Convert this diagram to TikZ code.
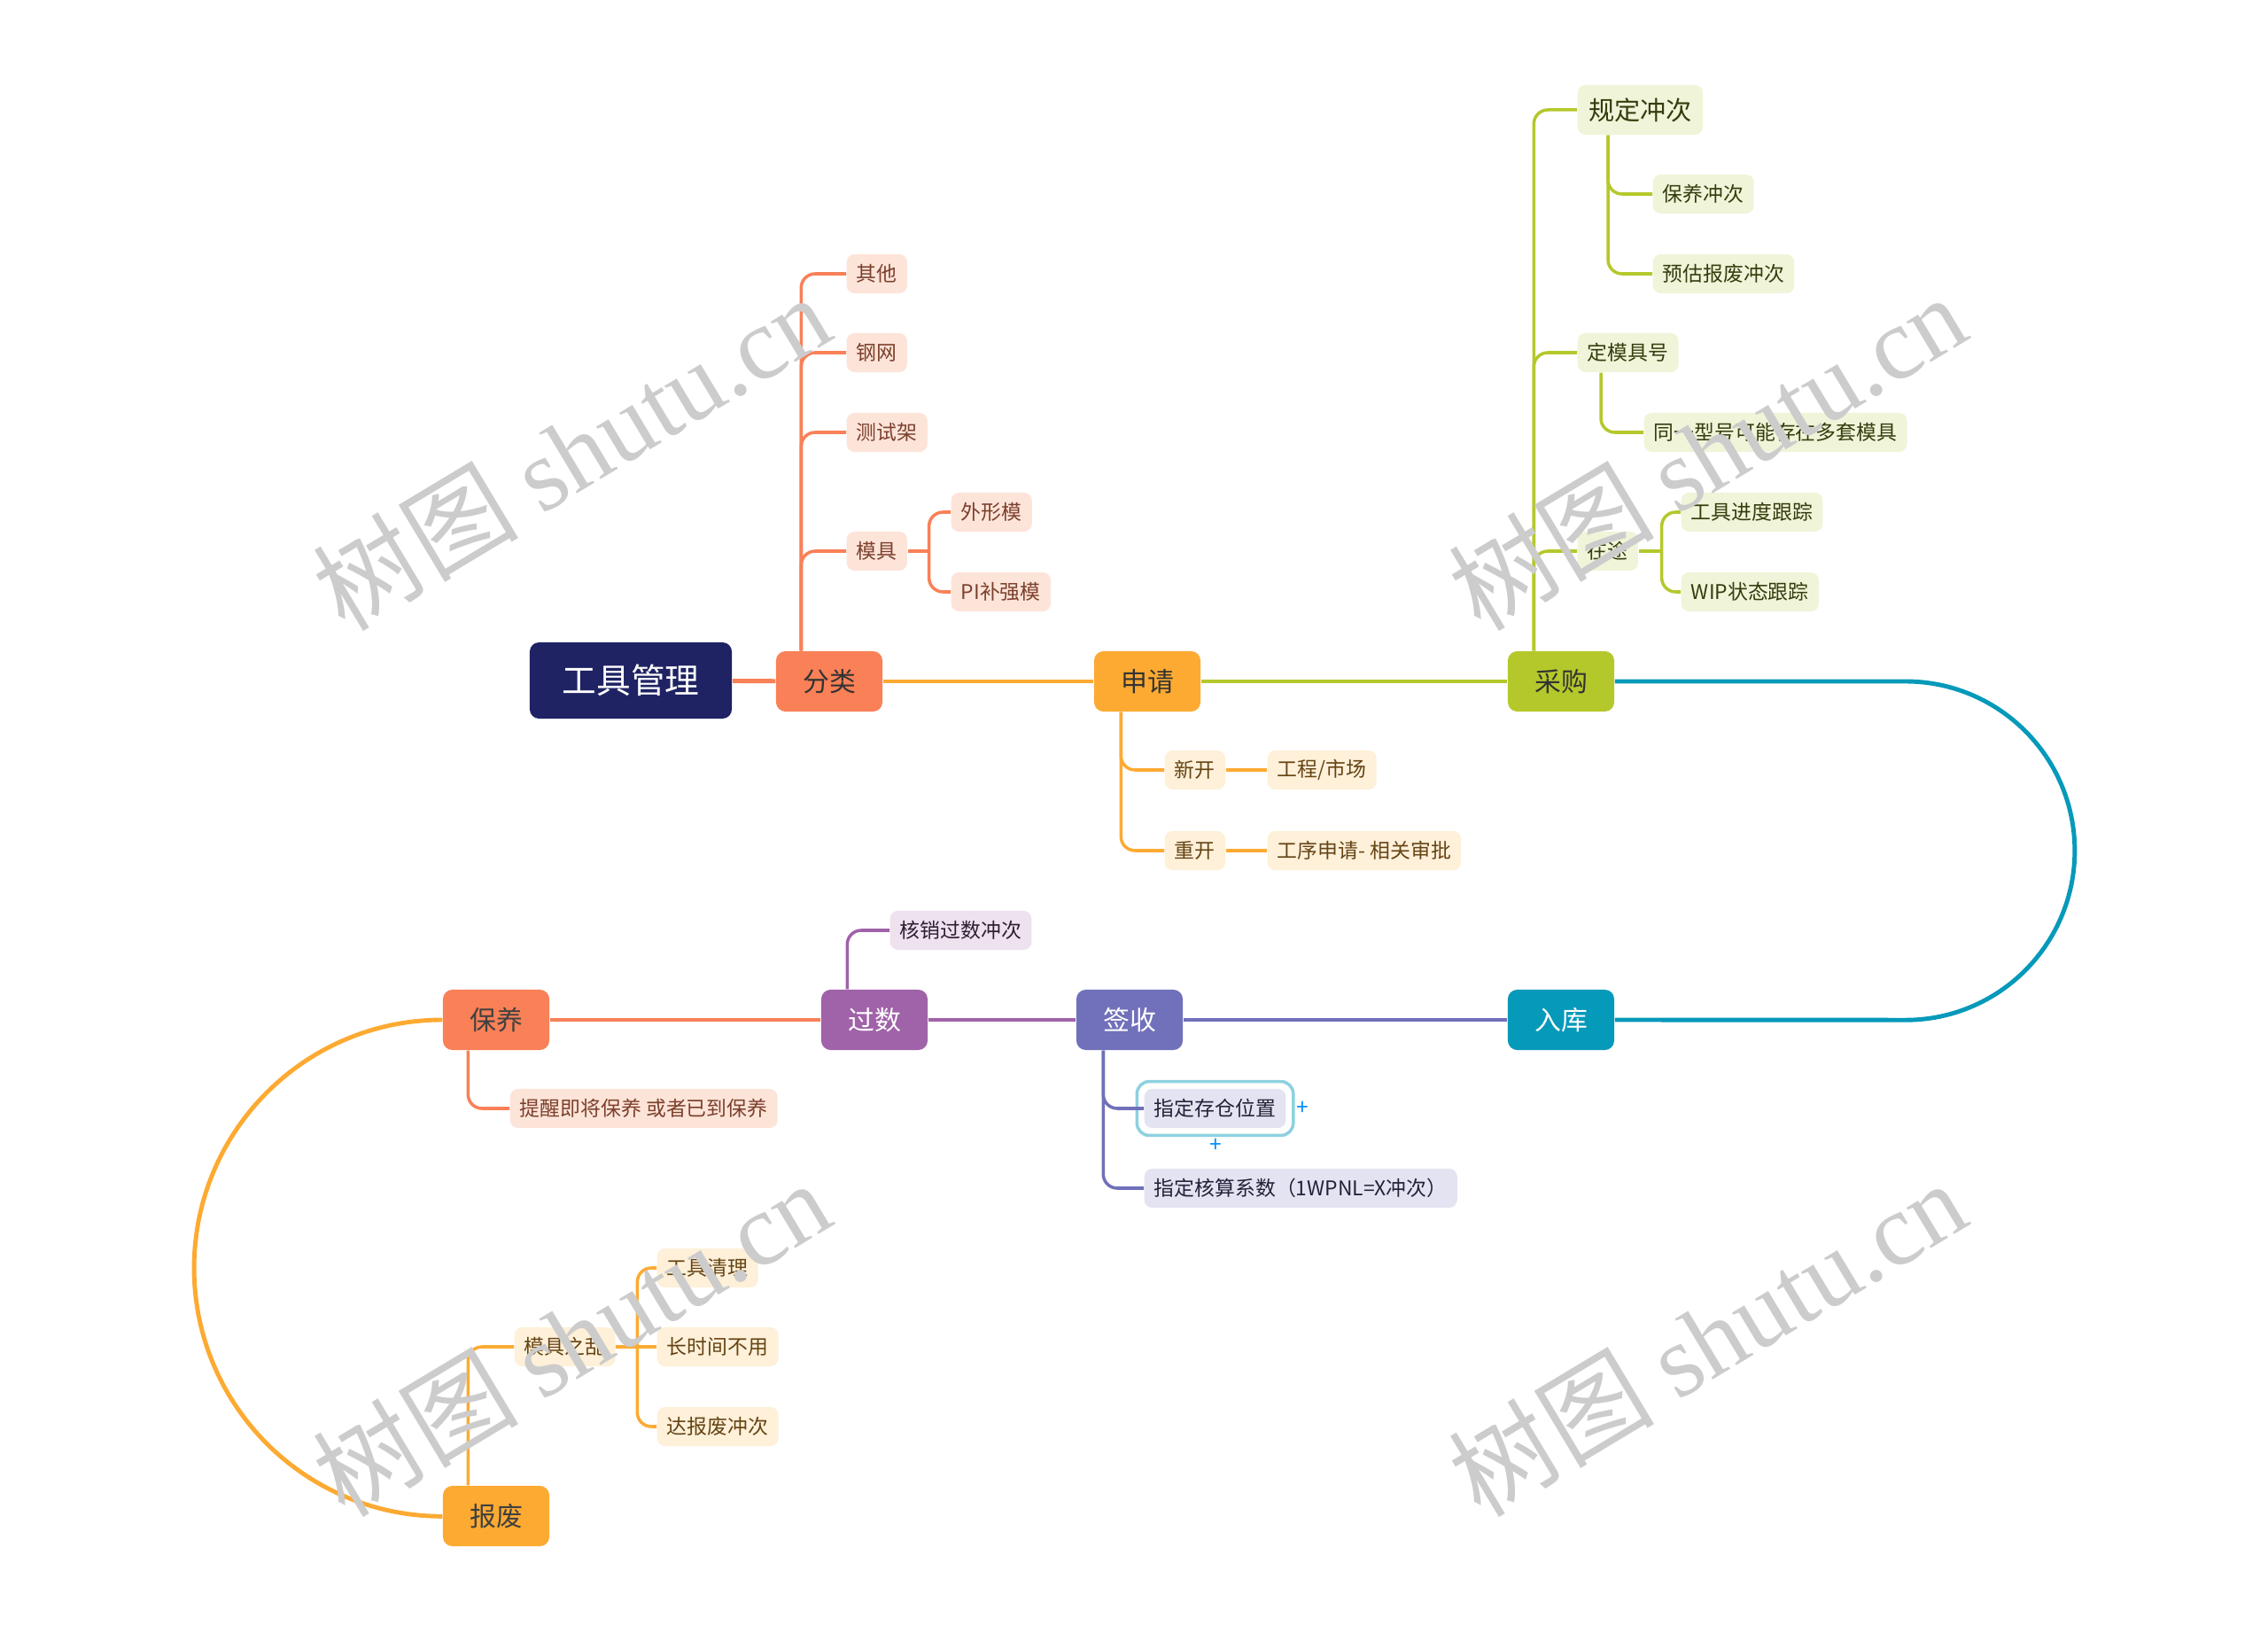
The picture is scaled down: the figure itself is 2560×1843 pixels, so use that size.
\documentclass[tikz,border=0pt]{standalone}
\usepackage{fontspec}
\setmainfont{Noto Sans CJK SC}
\newfontfamily\wmfont{Liberation Serif}
\usepackage{tikz}
\usetikzlibrary{fit}
\definecolor{navy}{HTML}{1F2363}
\definecolor{coral}{HTML}{F98057}
\definecolor{amber}{HTML}{FDAA32}
\definecolor{lime}{HTML}{B5C82B}
\definecolor{sea}{HTML}{0599BA}
\definecolor{slate}{HTML}{7170BA}
\definecolor{plum}{HTML}{A062A8}
\definecolor{coralT}{HTML}{FDE4D9}
\definecolor{amberT}{HTML}{FEF0D9}
\definecolor{limeT}{HTML}{F0F4D9}
\definecolor{plumT}{HTML}{EEE2EF}
\definecolor{slateT}{HTML}{E4E3F2}

\begin{document}
\begin{tikzpicture}[x=0.01cm, y=-0.01cm,
    main/.style={rounded corners=3pt, minimum width=1.2cm, minimum height=0.68cm, inner sep=0pt, font=\fontsize{8.5}{9}\selectfont},
    kid/.style={anchor=west, rounded corners=2.5pt, minimum height=0.44cm, inner xsep=3.2pt, inner ysep=0pt, font=\fontsize{6.5}{7}\selectfont},
    lk/.style={line width=1.4pt},
    br/.style={line width=1pt, rounded corners=4.5pt},
    wm/.style={text=gray!40, rotate=31, font=\fontsize{33}{33}\selectfont}]
        \useasboundingbox (0,0) rectangle (2560,1843);
        % main line
        \draw (712, 768) node[main, fill=navy, text=white, minimum width=2.28cm, minimum height=0.86cm, font=\fontsize{11}{12}\selectfont](root) {工具管理};
        \draw (936, 769) node[main, fill=coral, text=black!80](fl) {分类};
        \draw (1295, 769) node[main, fill=amber, text=black!80](sq) {申请};
        \draw (1762, 769) node[main, fill=lime, text=black!80](cg) {采购};
        \draw (1762,1151) node[main, fill=sea, text=white](rk) {入库};
        \draw (1275,1151) node[main, fill=slate, text=white](qs) {签收};
        \draw (987,1151) node[main, fill=plum, text=white](gs) {过数};
        \draw (560,1151) node[main, fill=coral, text=black!75](by) {保养};
        \draw (560,1711) node[main, fill=amber, text=black!75](bf) {报废};
        \draw[lk, coral] (root) -- (fl);
        \draw[lk, amber] (fl) -- (sq);
        \draw[lk, lime] (sq) -- (cg);
        \draw[lk, sea] (cg.east) -- ++(328,0) arc[start angle=90, end angle=-90, radius=1.91cm] -- (rk.east);
        \draw[lk, slate] (rk) -- (qs);
        \draw[lk, plum] (qs) -- (gs);
        \draw[lk, coral] (gs) -- (by);
        \draw[lk, amber] (by.west) arc[start angle=90, end angle=270, radius=2.8cm];

        % 分类
        \draw (955, 309) node[kid, fill=coralT, text=coral!50!black](fl1) {其他};
        \draw (955, 398) node[kid, fill=coralT, text=coral!50!black](fl2) {钢网};
        \draw (955, 488) node[kid, fill=coralT, text=coral!50!black](fl3) {测试架};
        \draw (955, 622) node[kid, fill=coralT, text=coral!50!black](fl4) {模具};
        \draw (1073, 578) node[kid, fill=coralT, text=coral!50!black](fl41) {外形模};
        \draw (1073, 668) node[kid, fill=coralT, text=coral!50!black](fl42) {PI补强模};
        \foreach \k in {fl1,fl2,fl3,fl4}
            \draw[br, coral] ([xshift=0.29cm]fl.north west) |- (\k.west);
        \draw[br, coral] (fl4.east) -- ++(24,0) coordinate(fl4b);
        \draw[br, coral] (fl4b) |- (fl41.west);
        \draw[br, coral] (fl4b) |- (fl42.west);

        % 申请
        \draw (1314, 869) node[kid, fill=amberT, text=amber!40!black](sq1) {新开};
        \draw (1430, 869) node[kid, fill=amberT, text=amber!40!black](sq11) {工程/市场};
        \draw (1314, 960) node[kid, fill=amberT, text=amber!40!black](sq2) {重开};
        \draw (1430, 960) node[kid, fill=amberT, text=amber!40!black](sq21) {工序申请- 相关审批};
        \draw[br, amber] ([xshift=0.31cm]sq.south west) |- (sq1.west);
        \draw[br, amber] ([xshift=0.31cm]sq.south west) |- (sq2.west);
        \draw[br, amber] (sq1) -- (sq11);
        \draw[br, amber] (sq2) -- (sq21);

        % 采购
        \draw (1780, 124) node[kid, fill=limeT, text=lime!30!black, minimum height=0.56cm, inner xsep=3.5pt, font=\fontsize{8.3}{9}\selectfont](cg1) {规定冲次};
        \draw (1865, 219) node[kid, fill=limeT, text=lime!30!black](cg11) {保养冲次};
        \draw (1865, 309) node[kid, fill=limeT, text=lime!30!black](cg12) {预估报废冲次};
        \draw (1780, 398) node[kid, fill=limeT, text=lime!30!black](cg2) {定模具号};
        \draw (1855, 488) node[kid, fill=limeT, text=lime!30!black](cg21) {同一型号可能存在多套模具};
        \draw (1780, 622) node[kid, fill=limeT, text=lime!30!black](cg3) {在途};
        \draw (1897, 578) node[kid, fill=limeT, text=lime!30!black](cg31) {工具进度跟踪};
        \draw (1897, 668) node[kid, fill=limeT, text=lime!30!black](cg32) {WIP状态跟踪};
        \foreach \k in {cg1,cg2,cg3}
            \draw[br, lime] ([xshift=0.30cm]cg.north west) |- (\k.west);
        \draw[br, lime] ([xshift=0.35cm]cg1.south west) |- (cg11.west);
        \draw[br, lime] ([xshift=0.35cm]cg1.south west) |- (cg12.west);
        \draw[br, lime] ([xshift=0.27cm]cg2.south west) |- (cg21.west);
        \draw[br, lime] (cg3.east) -- ++(26,0) coordinate(cg3b);
        \draw[br, lime] (cg3b) |- (cg31.west);
        \draw[br, lime] (cg3b) |- (cg32.west);

        % 签收
        \draw (1291,1251) node[kid, fill=slateT, text=slate!30!black](qs1) {指定存仓位置};
        \draw (1291,1341) node[kid, fill=slateT, text=slate!30!black](qs2) {指定核算系数（1WPNL=X冲次）};
        \node[draw=sea!45, line width=1pt, rounded corners=4pt, inner sep=2.2pt, fit=(qs1)](qs1s) {};
        \draw (1470,1251) node[text=blue!45!cyan, font=\fontsize{7}{7}\selectfont](pl1) {+};
        \draw (1372,1293) node[text=blue!45!cyan, font=\fontsize{7}{7}\selectfont](pl2) {+};
        \draw[br, slate] ([xshift=0.31cm]qs.south west) |- (qs1.west);
        \draw[br, slate] ([xshift=0.31cm]qs.south west) |- (qs2.west);

        % 过数
        \draw (1004,1050) node[kid, fill=plumT, text=plum!30!black](gs1) {核销过数冲次};
        \draw[br, plum] ([xshift=0.30cm]gs.north west) |- (gs1.west);

        % 保养
        \draw (575,1251) node[kid, fill=coralT, text=coral!50!black](by1) {提醒即将保养 或者已到保养};
        \draw[br, coral] ([xshift=0.29cm]by.south west) |- (by1.west);

        % 报废
        \draw (580,1520) node[kid, fill=amberT, text=amber!40!black](bf1) {模具之乱};
        \draw (741,1431) node[kid, fill=amberT, text=amber!40!black](bf11) {工具清理};
        \draw (741,1520) node[kid, fill=amberT, text=amber!40!black](bf12) {长时间不用};
        \draw (741,1610) node[kid, fill=amberT, text=amber!40!black](bf13) {达报废冲次};
        \draw[br, amber] ([xshift=0.29cm]bf.north west) |- (bf1.west);
        \draw[br, amber] (bf1) -- (bf12);
        \draw[br, amber] (bf1.east) -- ++(24,0) coordinate(bf1b);
        \draw[br, amber] (bf1b) |- (bf11.west);
        \draw[br, amber] (bf1b) |- (bf13.west);

        % watermarks
        \draw (645, 510) node[wm](wm1) {树图 {\wmfont shutu.cn}};
        \draw (1927, 510) node[wm](wm2) {树图 {\wmfont shutu.cn}};
        \draw (645,1510) node[wm](wm3) {树图 {\wmfont shutu.cn}};
        \draw (1927,1510) node[wm](wm4) {树图 {\wmfont shutu.cn}};
    \end{tikzpicture}
\end{document}
